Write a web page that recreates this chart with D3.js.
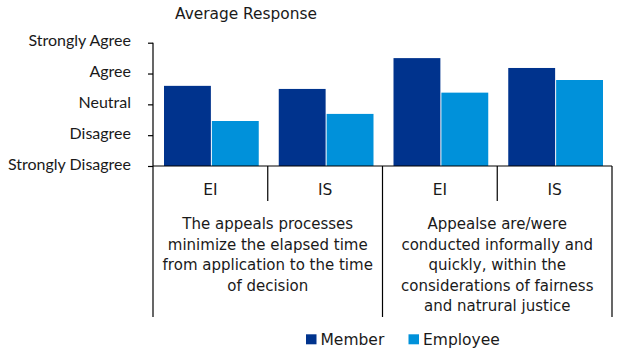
<!DOCTYPE html>
<html>
<head>
<meta charset="utf-8">
<script src="https://cdn.jsdelivr.net/npm/d3@7"></script>
<style>
html,body{margin:0;padding:0;background:#fff;}
svg{display:block;}
</style>
</head>
<body>
<svg id="chart" width="622" height="356"></svg>
<script>
const title = "Average Response";
const yTickLabels = ["Strongly Disagree","Disagree","Neutral","Agree","Strongly Agree"];
const categories = ["EI","IS","EI","IS"];
const groupLabels = [
  ["The appeals processes","minimize the elapsed time","from application to the time","of decision"],
  ["Appealse are/were","conducted informally and","quickly, within the","considerations of fairness","and natrural justice"]
];
const seriesNames = ["Member","Employee"];
const memberValues = [3.6, 3.5, 4.5, 4.18];
const employeeValues = [2.46, 2.69, 3.38, 3.79];
const colors = ["#00338D","#0091DA"];

(function(){
const svg = d3.select("#chart");
const textColor = "#1a1a1a";
const labelFont = "'DejaVu Sans', Verdana, sans-serif";
const plotLeft = 153, plotRight = 612, plotTop = 42.7, plotBottom = 166;

const y = d3.scaleLinear().domain([1,5]).range([plotBottom, plotTop]);
const keys = categories.map((c,i)=>i);
const x0 = d3.scaleBand().domain(keys).range([plotLeft, plotRight]).paddingInner(0).paddingOuter(0);
const x1 = d3.scaleBand().domain(seriesNames).range([11, x0.bandwidth()-9]);

const data = keys.map(i => ({i, values:[memberValues[i], employeeValues[i]]}));

// bars
const g = svg.append("g");
data.forEach(d => {
  seriesNames.forEach((s, si) => {
    g.append("rect")
      .attr("x", x0(d.i) + x1(s) + (si===1?0.5:0))
      .attr("y", y(d.values[si]))
      .attr("width", x1.bandwidth() - 0.5)
      .attr("height", y(1) - y(d.values[si]))
      .attr("fill", colors[si]);
  });
});

// y axis
const yAxis = d3.axisLeft(y).tickValues([1,2,3,4,5]).tickSize(5).tickFormat(v => yTickLabels[v-1]);
const ya = svg.append("g").attr("transform", `translate(${plotLeft},0)`).call(yAxis);
ya.select(".domain").remove();
ya.selectAll(".tick line").attr("stroke","#000").attr("stroke-width",1.2);
ya.selectAll(".tick text")
  .attr("x", -22)
  .attr("y", -2.5)
  .attr("dy", "0.35em")
  .attr("fill", textColor)
  .style("font-family","Lato, 'Open Sans', sans-serif")
  .style("font-size","16px");
svg.append("line").attr("x1",plotLeft).attr("x2",plotLeft).attr("y1",plotTop).attr("y2",317)
  .attr("stroke","#000").attr("stroke-width",1.2);

// x axis line
svg.append("line").attr("x1",plotLeft).attr("x2",plotRight).attr("y1",plotBottom).attr("y2",plotBottom)
  .attr("stroke","#000").attr("stroke-width",1.2);

// separators
keys.forEach(i => {
  const xr = x0(i) + x0.bandwidth();
  const isOuter = (i % 2 === 1);
  svg.append("line").attr("x1",xr).attr("x2",xr).attr("y1",plotBottom).attr("y2", isOuter?317:201)
    .attr("stroke","#000").attr("stroke-width",1.2);
});

// category labels
svg.append("g").selectAll("text").data(keys).join("text")
  .attr("x", i => x0(i) + x0.bandwidth()/2)
  .attr("y", 195)
  .attr("text-anchor","middle")
  .attr("fill", textColor)
  .style("font-family", labelFont)
  .style("font-size","15.5px")
  .text(i => categories[i]);

// group labels
groupLabels.forEach((lines, gi) => {
  const cx = (x0(gi*2) + x0(gi*2+1) + x0.bandwidth())/2;
  const t = svg.append("text")
    .attr("text-anchor","middle")
    .attr("fill", textColor)
    .style("font-family", labelFont)
    .style("font-size","15px");
  lines.forEach((ln, li) => {
    t.append("tspan").attr("x", cx).attr("y", 229 + li*20.6).text(ln);
  });
});

// title
svg.append("text").attr("x",175).attr("y",18.5)
  .attr("fill", textColor)
  .style("font-family", labelFont)
  .style("font-size","15.4px")
  .text(title);

// legend
const legendX = [306, 408.5];
seriesNames.forEach((s, si) => {
  svg.append("rect").attr("x", legendX[si]).attr("y", 334.3).attr("width",10.5).attr("height",10).attr("fill", colors[si]);
  svg.append("text").attr("x", legendX[si]+14.5).attr("y", 345)
    .attr("fill", textColor)
    .style("font-family", labelFont)
    .style("font-size","15.5px")
    .text(s);
});
})();
</script>
</body>
</html>
